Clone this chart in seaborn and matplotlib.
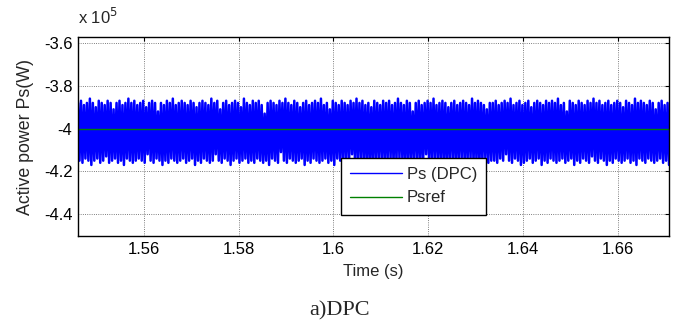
import numpy as np
import pandas as pd
import matplotlib
matplotlib.use("Agg")
import matplotlib.pyplot as plt
import seaborn as sns
from matplotlib.ticker import FuncFormatter

# ---- data (values in kW) ----
ps_upper_kw = [
    -388, -387, -389, -388, -386, -388, -390, -387, -388, -389,
    -387, -388, -391, -388, -387, -389, -388, -386, -388, -387,
    -389, -388, -387, -390, -388, -387, -388, -392, -388, -389,
    -387, -388, -386, -389, -388, -387, -388, -389, -387, -388,
    -390, -388, -387, -388, -389, -386, -388, -387, -391, -388,
    -387, -389, -388, -387, -388, -390, -386, -388, -389, -387,
    -388, -387, -389, -393, -388, -387, -388, -389, -387, -388,
    -386, -388, -389, -387, -388, -390, -388, -387, -389, -388,
    -387, -388, -386, -389, -388, -391, -387, -388, -389, -387,
    -388, -389, -387, -388, -386, -388, -387, -389, -388, -390,
    -387, -388, -389, -387, -388, -387, -389, -388, -386, -388,
    -389, -387, -388, -392, -388, -387, -389, -388, -387, -388,
    -386, -389, -388, -387, -388, -390, -388, -387, -389, -388,
    -387, -388, -389, -386, -388, -387, -388, -389, -391, -388,
    -388, -387, -389, -388, -387, -388, -386, -389, -388, -387,
    -389, -388, -387, -390, -388, -387, -388, -389, -387, -388,
    -387, -388, -386, -389, -388, -392, -387, -388, -389, -387,
    -388, -389, -387, -388, -386, -388, -387, -389, -388, -387,
    -389, -388, -387, -388, -390, -387, -388, -389, -386, -388,
    -387, -388, -389, -387, -388, -391, -388, -387, -389, -388,
]
ps_lower_kw = [
    -415, -416, -414, -415, -417, -415, -414, -416, -415, -413,
    -416, -415, -414, -416, -415, -417, -414, -415, -416, -415,
    -414, -415, -416, -412, -415, -416, -414, -415, -417, -415,
    -416, -414, -415, -416, -415, -414, -416, -415, -414, -417,
    -415, -416, -414, -415, -416, -415, -412, -415, -416, -414,
    -415, -417, -415, -414, -416, -415, -414, -416, -415, -416,
    -414, -415, -416, -415, -417, -414, -415, -416, -411, -415,
    -416, -414, -415, -416, -415, -414, -417, -415, -416, -414,
    -415, -416, -415, -414, -416, -415, -417, -414, -415, -416,
    -414, -415, -412, -416, -415, -414, -416, -415, -417, -415,
    -416, -414, -415, -416, -415, -414, -416, -415, -414, -415,
    -417, -415, -416, -414, -415, -416, -415, -412, -415, -416,
    -414, -415, -416, -415, -417, -414, -415, -416, -415, -414,
    -416, -415, -414, -416, -415, -417, -415, -414, -416, -415,
    -415, -416, -414, -415, -412, -415, -416, -414, -415, -417,
    -416, -415, -414, -416, -415, -414, -417, -415, -416, -414,
    -415, -416, -415, -414, -416, -415, -414, -417, -415, -416,
    -414, -415, -416, -413, -415, -416, -414, -415, -417, -415,
    -416, -414, -415, -416, -415, -414, -416, -415, -417, -414,
    -415, -416, -414, -415, -416, -415, -414, -416, -415, -417,
]
psref_w = -4.0e5
t_start, t_end = 1.5461, 1.6708
x_ticks = [1.56, 1.58, 1.60, 1.62, 1.64, 1.66]
y_ticks = [-3.6e5, -3.8e5, -4.0e5, -4.2e5, -4.4e5]
series_labels = ["Ps (DPC)", "Psref"]

# interleave peaks and troughs into one sampled signal
ps_kw = []
for u, l in zip(ps_upper_kw, ps_lower_kw):
    ps_kw += [u, l]
ps_w = np.array(ps_kw, dtype=float) * 1000.0
time = np.linspace(t_start, t_end, len(ps_w))
df = pd.DataFrame({"t": time, "ps": ps_w, "psref": np.full(len(ps_w), psref_w)})

sns.set_style("white")
plt.rcParams["font.family"] = ["Liberation Sans", "DejaVu Sans"]

fig = plt.figure(figsize=(6.82, 3.24), dpi=100)
ax = fig.add_axes([0.1144, 0.2716, 0.8666, 0.6142])

sns.lineplot(data=df, x="t", y="ps", ax=ax, color=(0, 0, 1), linewidth=1.8,
             estimator=None, sort=False, label=series_labels[0])
sns.lineplot(data=df, x="t", y="psref", ax=ax, color=(0, 0.5, 0), linewidth=1.0,
             estimator=None, sort=False, label=series_labels[1])

ax.set_xlim(t_start, t_end)
ax.set_ylim(-4.502e5, -3.572e5)
ax.set_xticks(x_ticks)
ax.set_yticks(y_ticks)
ax.xaxis.set_major_formatter(FuncFormatter(lambda v, p: "%g" % round(v, 4)))
ax.yaxis.set_major_formatter(FuncFormatter(lambda v, p: "%g" % round(v / 1e5, 4)))
ax.tick_params(axis="both", direction="in", length=3, width=0.8, labelsize=12,
               top=True, right=True, colors="black", pad=4)
ax.grid(True, linestyle=":", color="#555555", linewidth=0.6)
for s in ax.spines.values():
    s.set_visible(True)
    s.set_color("black")
    s.set_linewidth(1.0)

ax.set_xlabel("Time (s)", fontsize=12, labelpad=5)
ax.set_ylabel("Active power Ps(W)", fontsize=12.8, labelpad=7)
ax.text(0.0, 1.065, r"x 10$^5$", transform=ax.transAxes, fontsize=12,
        ha="left", va="baseline")

leg = ax.legend(loc="upper left", bbox_to_anchor=(0.445, 0.392), fontsize=12,
                frameon=True, fancybox=False, framealpha=1, edgecolor="black",
                handlelength=3.1, borderpad=0.55, labelspacing=0.5, handletextpad=0.3,
                borderaxespad=0)
leg.get_frame().set_linewidth(1.0)
for h in leg.get_lines():
    h.set_linewidth(1.0)

fig.text(0.4985, 0.025, "a)DPC", fontsize=16, ha="center", va="baseline",
         family=["Liberation Serif", "DejaVu Serif"])

fig.savefig("out.png", dpi=100)
